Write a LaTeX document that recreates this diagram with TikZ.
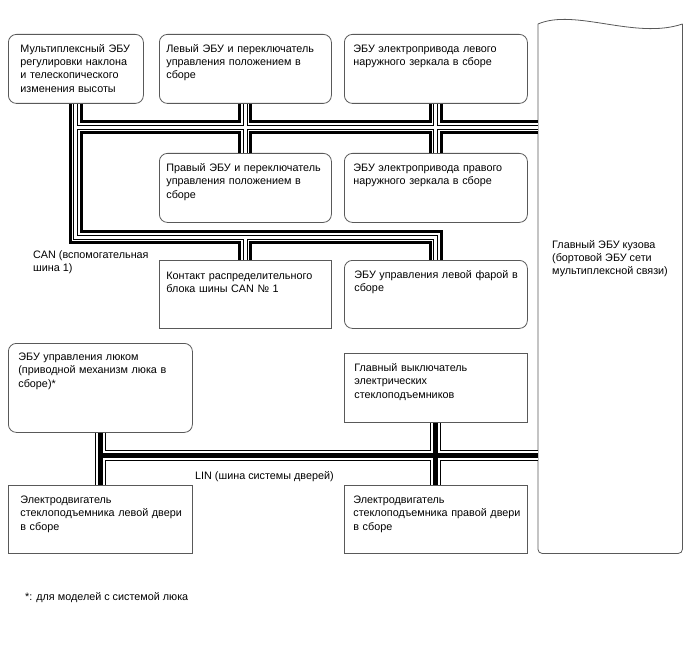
\documentclass[tikz,border=0pt]{standalone}
\usepackage{fontspec}
\setmainfont{Liberation Sans}
\usetikzlibrary{positioning,calc}

% box text: one line per row, no wrapping
\newcommand\ecutext[1]{\begin{tabular}[t]{@{}l@{}}#1\end{tabular}}

\begin{document}
\begin{tikzpicture}[x=1pt,y=-1pt,
  ecusq/.style={draw=black!65,line width=0.8pt,fill=white,anchor=north west,
    inner xsep=9pt,inner ysep=0pt,text height=18pt,
    font=\fontsize{10.8}{13.3}\selectfont},
  ecu/.style={ecusq,rounded corners=8pt},
  txt/.style={anchor=north west,align=left,inner sep=0pt,
    font=\fontsize{10.8}{13.3}\selectfont}]
\useasboundingbox (0,0) rectangle (688,658);
% top row
\node[ecu,inner xsep=12pt,text width=111pt,text depth=51pt] (mux) at (8,34)
  {\ecutext{Мультиплексный ЭБУ\\регулировки наклона\\и телескопического\\изменения высоты}};
\node[ecu,inner xsep=7pt,text width=158pt,text depth=51pt] (lecu) at (159,34)
  {\ecutext{Левый ЭБУ и переключатель\\управления положением в\\сборе}};
\node[ecu,text width=165pt,text depth=51pt] (lmir) at (344,34)
  {\ecutext{ЭБУ электропривода левого\\наружного зеркала в сборе}};
% second row
\node[ecu,inner xsep=7pt,text width=158pt,text depth=51pt] (recu) at (159,153)
  {\ecutext{Правый ЭБУ и переключатель\\управления положением в\\сборе}};
\node[ecu,text width=165pt,text depth=51pt] (rmir) at (344,153)
  {\ecutext{ЭБУ электропривода правого\\наружного зеркала в сборе}};
% third row
\node[ecusq,inner xsep=7pt,text width=158pt,text height=19pt,text depth=49pt] (cont) at (159,260)
  {\ecutext{Контакт распределительного\\блока шины CAN № 1}};
\node[ecu,inner xsep=10pt,text width=163pt,text depth=50pt] (lamp) at (344,260)
  {\ecutext{ЭБУ управления левой фарой в\\сборе}};
% LIN side
\node[ecu,inner xsep=10pt,text width=164pt,text height=17pt,text depth=72pt] (sroof) at (8,343)
  {\ecutext{ЭБУ управления люком\\(приводной механизм люка в\\сборе)*}};
\node[ecusq,inner xsep=10pt,text width=163pt,text depth=51pt] (pwsw) at (344,353)
  {\ecutext{Главный выключатель\\электрических\\стеклоподъемников}};
\node[ecusq,inner xsep=12pt,text width=160pt,text depth=50pt] (ldoor) at (8,485)
  {\ecutext{Электродвигатель\\стеклоподъемника левой двери\\в сборе}};
\node[ecusq,text width=165pt,text depth=50pt] (rdoor) at (344,485)
  {\ecutext{Электродвигатель\\стеклоподъемника правой двери\\в сборе}};
% body ECU
\node[anchor=north west,inner sep=0pt,minimum width=144pt,minimum height=529pt] (body) at (538,24) {};
\draw[black!65,line width=0.8pt] (body.north west) .. controls +(37,-16) and +(-47,16) .. (body.north east);
\draw[black!65,line width=0.8pt,rounded corners=4pt] (body.north east) -- (body.south east)
  -- (body.south west) -- (body.north west);
\node[txt] (bodytxt) at (552,240) {Главный ЭБУ кузова\\(бортовой ЭБУ сети\\мультиплексной связи)};

% CAN bus
\foreach \w/\c in {14/black,8/white,5/black,3/white}{
  \draw[line width=\w pt,\c] (mux.south) |- (lamp.north |- 0,237) -- (lamp.north);
  \draw[line width=\w pt,\c] (mux.south |- 0,127.5) -- (body.west |- 0,127.5);
  \draw[line width=\w pt,\c] (lecu.south) -- (recu.north);
  \draw[line width=\w pt,\c] (lmir.south) -- (rmir.north);
  \draw[line width=\w pt,\c] (cont.north |- 0,237) -- (cont.north);
}
% LIN bus
\foreach \w/\c in {11/black,9/white,5/black}{
  \draw[line width=\w pt,\c] (sroof.south) -- (ldoor.north);
  \draw[line width=\w pt,\c] (sroof.south |- 0,455.5) -- (body.west |- 0,455.5);
  \draw[line width=\w pt,\c] (pwsw.south) -- (rdoor.north);
}

\node[txt] (canlbl) at (33,250) {CAN (вспомогательная\\шина 1)};
\node[txt] (linlbl) at (195,471) {LIN (шина системы дверей)};
\node[txt] (note) at (25,592) {*: для моделей с системой люка};
\end{tikzpicture}
\end{document}
